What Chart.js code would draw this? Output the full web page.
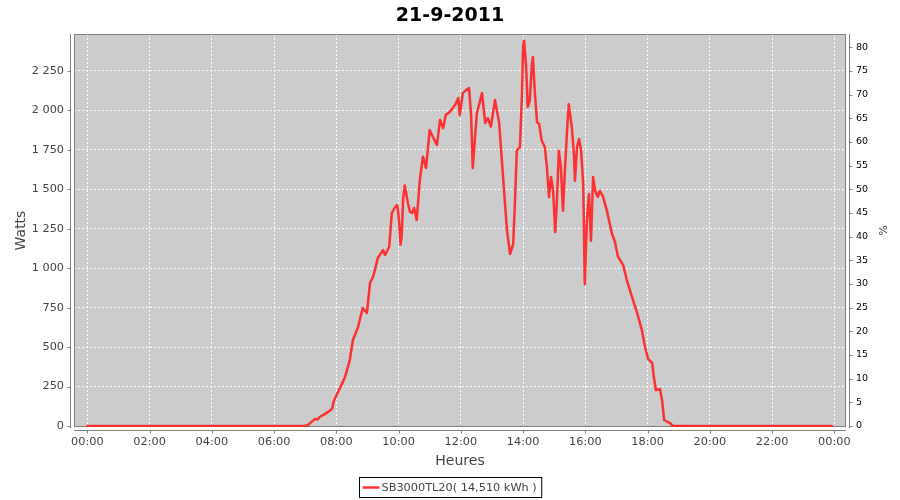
<!DOCTYPE html>
<html>
<head>
<meta charset="utf-8">
<script src="https://cdn.jsdelivr.net/npm/chart.js@4/dist/chart.umd.min.js"></script>
<style>
html,body{margin:0;padding:0;background:#ffffff;}
#wrap{width:900px;height:500px;}
</style>
</head>
<body>
<div id="wrap"><canvas id="c" width="900" height="500"></canvas></div>
<script>
// ---------- data ----------
const chartTitle = '21-9-2011';
const seriesName = 'SB3000TL20( 14,510 kWh )';
const xAxisTitle = 'Heures';
const yAxisTitle = 'Watts';
const y2AxisTitle = '%';

const times = [
  '00:00','07:00','07:05','07:10','07:19','07:24','07:28','07:35','07:42','07:47','07:52','07:55',
  '08:01','08:07','08:12','08:17','08:26','08:32','08:37','08:42','08:51','08:59','09:05','09:11',
  '09:16','09:20','09:30','09:34','09:42','09:47','09:52','09:57','09:58','10:01','10:04',
  '10:06','10:09','10:12','10:18','10:22','10:26','10:30','10:35','10:41','10:47',
  '10:53','11:00','11:06','11:14','11:20','11:26','11:31','11:39','11:49','11:55',
  '11:58','12:04','12:10','12:16','12:20','12:23','12:31','12:41','12:47','12:52',
  '12:58','13:06','13:14','13:21','13:29','13:35','13:41','13:44','13:48','13:54',
  '13:58','14:00','14:02','14:06','14:09','14:13','14:17','14:19','14:23','14:27',
  '14:31','14:36','14:42','14:46','14:50','14:54','14:58','15:02','15:05','15:09',
  '15:13','15:17','15:21','15:27','15:28','15:34','15:38','15:40','15:44','15:48',
  '15:52','15:56','15:59','16:03','16:07','16:11','16:15','16:19','16:24','16:28',
  '16:34','16:42','16:51','16:57','17:03','17:13','17:20','17:30','17:40','17:49',
  '17:55','18:01','18:09','18:12','18:16','18:24','18:28','18:32','18:38','18:43',
  '18:49','23:55'
];
const watts = [
  0,0,5,20,45,42,57,70,85,95,110,155,
  200,240,275,312,418,545,585,629,748,716,906,946,
  1010,1065,1115,1084,1136,1350,1380,1400,1390,1300,1150,
  1200,1445,1525,1413,1358,1350,1381,1306,1559,1707,
  1635,1876,1833,1781,1939,1888,1971,1992,2034,2079,
  1971,2110,2129,2142,1960,1635,1983,2110,1920,1952,
  1897,2066,1920,1600,1242,1090,1153,1388,1745,1768,
  2104,2402,2442,2275,2022,2061,2294,2338,2104,1926,
  1914,1808,1768,1641,1451,1578,1491,1229,1407,1745,
  1641,1364,1641,1998,2040,1895,1724,1554,1768,1819,
  1745,1534,900,1299,1470,1174,1578,1491,1451,1491,
  1455,1360,1223,1168,1073,1020,925,819,716,608,
  503,425,399,312,228,234,165,38,27,19,
  0,0
];

const hourTicks  = [0,2,4,6,8,10,12,14,16,18,20,22,24];
const hourLabels = ['00:00','02:00','04:00','06:00','08:00','10:00','12:00','14:00','16:00','18:00','20:00','22:00','00:00'];
const wattTicks  = [0,250,500,750,1000,1250,1500,1750,2000,2250];
const wattLabels = ['0','250','500','750','1 000','1 250','1 500','1 750','2 000','2 250'];
const pctTicks   = [0,5,10,15,20,25,30,35,40,45,50,55,60,65,70,75,80];
const wattsPerPercent = 30; // 3000 W = 100 %

// axis ranges
const X_MIN = -0.427, X_MAX = 24.376;
const Y_MIN = -6.3,  Y_MAX = 2484.5;

// ---------- chart ----------
const FONT = '"DejaVu Sans", sans-serif';
function toHours(t){ const p = t.split(':').map(Number); return p[0] + p[1]/60; }
const points = times.map((t,i) => ({x: toHours(t), y: watts[i]}));

const plotDecor = {
  id: 'plotDecor',
  beforeDraw(chart){
    const {ctx, chartArea:a} = chart;
    ctx.save();
    ctx.fillStyle = '#cccccc';
    ctx.fillRect(a.left, a.top, a.right - a.left, a.bottom - a.top);
    ctx.restore();
  },
  beforeDatasetsDraw(chart){
    const {ctx, chartArea:a} = chart;
    ctx.save();
    ctx.strokeStyle = '#808080';
    ctx.lineWidth = 1;
    ctx.strokeRect(a.left + 0.5, a.top + 0.5, a.right - a.left - 1, a.bottom - a.top - 1);
    ctx.restore();
  },
  afterDraw(chart){
    const {ctx, chartArea:a, scales} = chart;
    ctx.save();
    ctx.strokeStyle = '#808080';
    ctx.lineWidth = 1;
    ctx.beginPath();
    // left axis
    const lx = a.left - 3.5;
    ctx.moveTo(lx, a.top); ctx.lineTo(lx, a.bottom + 1);
    scales.y.ticks.forEach(t => { const py = Math.round(scales.y.getPixelForValue(t.value)) + 0.5; ctx.moveTo(lx, py); ctx.lineTo(lx - 3, py); });
    // right axis
    const rx = a.right + 3.5;
    ctx.moveTo(rx, a.top); ctx.lineTo(rx, a.bottom + 1);
    scales.y2.ticks.forEach(t => { const py = Math.round(scales.y2.getPixelForValue(t.value)) + 0.5; ctx.moveTo(rx, py); ctx.lineTo(rx + 3, py); });
    // bottom axis
    const by = a.bottom + 3.5;
    ctx.moveTo(a.left, by); ctx.lineTo(a.right, by);
    scales.x.ticks.forEach(t => { const px = Math.round(scales.x.getPixelForValue(t.value)) + 0.5; ctx.moveTo(px, by); ctx.lineTo(px, by + 3); });
    ctx.stroke();

    // legend box
    ctx.font = '11.3px ' + FONT;
    const tw = ctx.measureText(seriesName).width;
    const w = 3 + 17 + 2 + tw + 5;
    const x0 = Math.round(chart.width / 2 - w / 2) + 0.5;
    const y0 = 477.5, h = 20;
    ctx.fillStyle = '#ffffff';
    ctx.fillRect(x0, y0, w, h);
    ctx.strokeStyle = '#000000';
    ctx.strokeRect(x0, y0, w, h);
    ctx.strokeStyle = 'rgba(255,40,40,0.95)';
    ctx.lineWidth = 2.5;
    ctx.beginPath(); ctx.moveTo(x0 + 3, y0 + 10); ctx.lineTo(x0 + 20, y0 + 10); ctx.stroke();
    ctx.fillStyle = '#444444';
    ctx.textBaseline = 'middle';
    ctx.textAlign = 'left';
    ctx.fillText(seriesName, x0 + 22, y0 + 10.5);
    ctx.restore();
  }
};

new Chart(document.getElementById('c'), {
  type: 'line',
  data: {
    datasets: [{
      label: seriesName,
      data: points,
      borderColor: 'rgba(255,40,40,0.95)',
      backgroundColor: 'rgba(255,40,40,0.95)',
      borderWidth: 2.5,
      borderJoinStyle: 'round',
      borderCapStyle: 'round',
      pointRadius: 0,
      tension: 0,
      fill: false,
      yAxisID: 'y',
      xAxisID: 'x'
    }]
  },
  options: {
    responsive: false,
    animation: false,
    events: [],
    layout: { padding: 0 },
    plugins: {
      legend: { display: false },
      tooltip: { enabled: false },
      title: {
        display: true,
        text: chartTitle,
        color: '#000000',
        font: { family: FONT, size: 19, weight: 'bold' },
        padding: { top: 4.4, bottom: 6.8 }
      }
    },
    scales: {
      x: {
        type: 'linear', position: 'bottom', min: X_MIN, max: X_MAX, bounds: 'data',
        afterBuildTicks: s => { s.ticks = hourTicks.map(v => ({value: v})); },
        afterFit: s => { s.height = 73; },
        ticks: {
          callback: (v, i) => hourLabels[i],
          autoSkip: false, maxRotation: 0, minRotation: 0,
          padding: 8, color: '#444444', font: { family: FONT, size: 11.3 }
        },
        grid: { color: '#ffffff', lineWidth: 1, drawTicks: false },
        border: { display: false, dash: [2, 2] },
        title: { display: true, text: xAxisTitle, color: '#444444',
                 font: { family: FONT, size: 14 }, padding: { top: 0, bottom: 30.6 } }
      },
      y: {
        type: 'linear', position: 'left', min: Y_MIN, max: Y_MAX, bounds: 'data',
        afterBuildTicks: s => { s.ticks = wattTicks.map(v => ({value: v})); },
        afterFit: s => { s.width = 74; },
        ticks: {
          callback: (v, i) => wattLabels[i],
          padding: 10, color: '#444444', font: { family: FONT, size: 11.3 }
        },
        grid: { color: '#ffffff', lineWidth: 1, drawTicks: false },
        border: { display: false, dash: [2, 2] },
        title: { display: true, text: yAxisTitle, color: '#444444',
                 font: { family: FONT, size: 14 }, padding: { top: 13.4, bottom: 0 } }
      },
      y2: {
        type: 'linear', position: 'right',
        min: Y_MIN / wattsPerPercent, max: Y_MAX / wattsPerPercent, bounds: 'data',
        afterBuildTicks: s => { s.ticks = pctTicks.map(v => ({value: v})); },
        afterFit: s => { s.width = 54; },
        ticks: {
          callback: v => String(v),
          padding: 10, color: '#000000', font: { family: FONT, size: 9.5 }
        },
        grid: { display: false, drawTicks: false },
        border: { display: false },
        title: { display: true, text: y2AxisTitle, color: '#444444',
                 font: { family: FONT, size: 11 }, padding: { top: 11.7, bottom: 0 } }
      }
    }
  },
  plugins: [plotDecor]
});
</script>
</body>
</html>
